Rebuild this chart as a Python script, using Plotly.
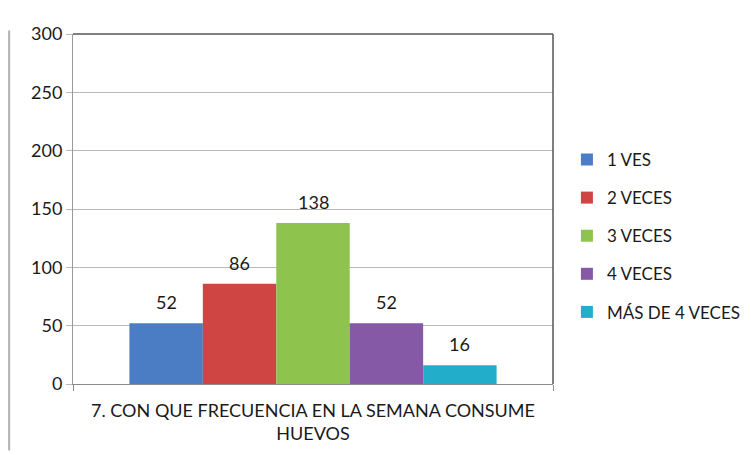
import plotly.graph_objects as go

category = ["7. CON QUE FRECUENCIA EN LA SEMANA CONSUME<br>HUEVOS"]
series_names = ["1 VES", "2 VECES", "3 VECES", "4 VECES", "MÁS DE 4 VECES"]
series_values = [52, 86, 138, 52, 16]
colors = ["#4a7dc3", "#cf4543", "#8ec34e", "#8659a6", "#22aecb"]

font_family = "Lato, Open Sans, sans-serif"
text_color = "#1a1a1a"
grid_color = "#b8b8b8"

# plot area is 480 px wide; bars fill 1 - bargap of it, split in 5
bargap = 0.235
bar_px = 480 * (1 - bargap) / len(series_values)

fig = go.Figure()
for i, (name, val, col) in enumerate(zip(series_names, series_values, colors)):
    fig.add_trace(go.Bar(
        x=category, y=[val], name=name, legendgroup=name,
        marker=dict(color=col, line=dict(width=0)),
    ))
    # value label above each bar
    fig.add_annotation(
        x=category[0], y=val, text=str(val), showarrow=False,
        xshift=(i - (len(series_values) - 1) / 2) * bar_px,
        yanchor="bottom", yshift=8,
        font=dict(size=18, color=text_color, family=font_family),
    )

fig.update_layout(
    width=751, height=455,
    margin=dict(l=65, r=206, t=26, b=79),
    paper_bgcolor="white", plot_bgcolor="white",
    barmode="group", bargap=bargap, bargroupgap=0,
    font=dict(family=font_family, size=18, color=text_color),
    legend=dict(x=1.029, xanchor="left", y=0.423, yanchor="middle",
                font=dict(size=17), tracegroupgap=13, itemwidth=30,
                bgcolor="rgba(0,0,0,0)"),
    showlegend=True,
)
fig.update_xaxes(showline=True, linecolor="#8c8c8c", showgrid=False,
                 ticks="outside", tickson="boundaries", ticklen=6, tickcolor="#8c8c8c",
                 tickfont=dict(size=18), ticklabelstandoff=10)
fig.update_yaxes(range=[0, 300], dtick=50, showgrid=True, gridcolor=grid_color,
                 showline=True, linecolor="#999999",
                 ticks="outside", ticklen=6, tickcolor=grid_color,
                 tickfont=dict(size=18), zeroline=False)

# darker frame on top and right of the plot area
fig.add_shape(type="line", xref="paper", yref="paper", x0=0, x1=1, y0=1, y1=1,
              line=dict(color="#555555", width=1.5))
fig.add_shape(type="line", xref="paper", yref="paper", x0=1, x1=1, y0=0, y1=1,
              line=dict(color="#555555", width=1.5))

# left page border line
fig.add_shape(type="line", xref="paper", yref="paper", x0=-0.133, x1=-0.133,
              y0=-0.19, y1=1.01, line=dict(color="#b0b0b0", width=2))

fig.write_html("out.html")
